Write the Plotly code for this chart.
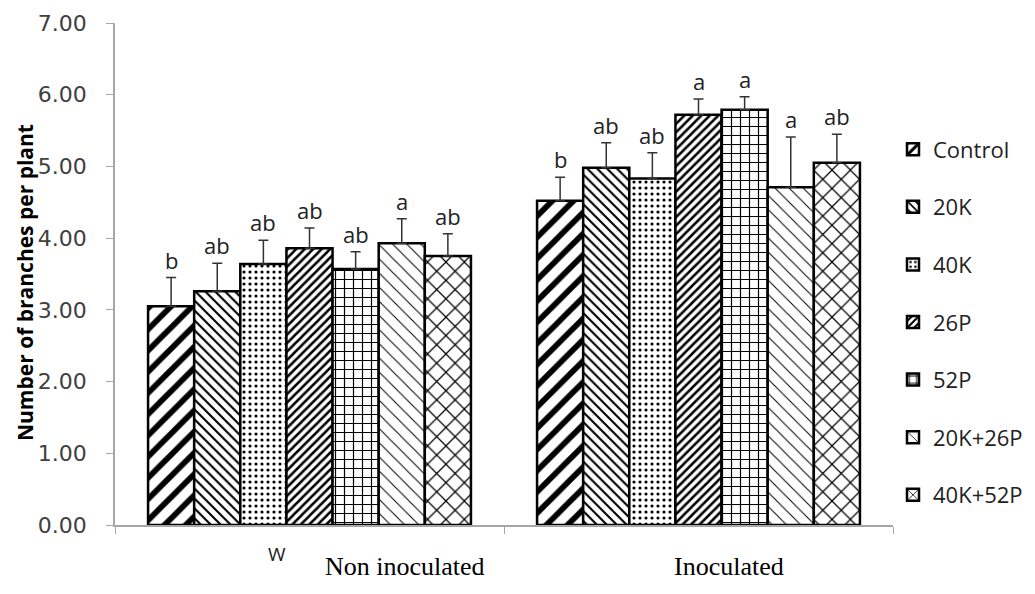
import plotly.graph_objects as go

categories = ["Non inoculated", "Inoculated"]
treatments = ["Control", "20K", "40K", "26P", "52P", "20K+26P", "40K+52P"]

# mean values per treatment: [Non inoculated, Inoculated]
means = {
    "Control": [3.05, 4.52],
    "20K": [3.26, 4.98],
    "40K": [3.64, 4.83],
    "26P": [3.86, 5.72],
    "52P": [3.57, 5.79],
    "20K+26P": [3.93, 4.71],
    "40K+52P": [3.75, 5.05],
}
errors = {
    "Control": [0.40, 0.33],
    "20K": [0.39, 0.35],
    "40K": [0.33, 0.36],
    "26P": [0.28, 0.22],
    "52P": [0.24, 0.18],
    "20K+26P": [0.34, 0.70],
    "40K+52P": [0.31, 0.40],
}
letters = {
    "Control": ["b", "b"],
    "20K": ["ab", "ab"],
    "40K": ["ab", "ab"],
    "26P": ["ab", "a"],
    "52P": ["ab", "a"],
    "20K+26P": ["a", "a"],
    "40K+52P": ["ab", "ab"],
}

patterns = {
    "Control": dict(shape="/", size=15, solidity=0.38),
    "20K": dict(shape="\\", size=7, solidity=0.3),
    "40K": dict(shape=".", size=6, solidity=0.22),
    "26P": dict(shape="/", size=6, solidity=0.42),
    "52P": dict(shape="+", size=9, solidity=0.25),
    "20K+26P": dict(shape="\\", size=10, solidity=0.1),
    "40K+52P": dict(shape="x", size=13, solidity=0.18),
}

BARGAP = 0.17
fig = go.Figure()
for t in treatments:
    p = patterns[t]
    fig.add_trace(go.Bar(
        name=t, x=categories, y=means[t], legendgroup=t,
        marker=dict(color="white", line=dict(color="black", width=2.5),
                    pattern=dict(shape=p["shape"], size=p["size"], solidity=p["solidity"],
                                 fgcolor="black", bgcolor="white", fillmode="replace")),
        error_y=dict(type="data", symmetric=False, array=errors[t],
                     arrayminus=[0, 0], color="#333333", thickness=1.5, width=5),
    ))

annotations = []
n = len(treatments)
bw = (1 - BARGAP) / n
for j, t in enumerate(treatments):
    for i, c in enumerate(categories):
        annotations.append(dict(
            x=i + (j - (n - 1) / 2) * bw, y=means[t][i] + errors[t][i],
            xref="x", yref="y", text=letters[t][i], showarrow=False,
            yanchor="bottom", yshift=1,
            font=dict(family="Open Sans", size=22, color="#222222")))

PW = 778
PH = 502
annotations += [
    dict(x=(405 - 115) / PW, y=-0.05, xref="paper", yref="paper", text="Non inoculated",
         showarrow=False, yanchor="top", xanchor="center",
         font=dict(family="Liberation Serif", size=26, color="black")),
    dict(x=(729 - 115) / PW, y=-0.05, xref="paper", yref="paper", text="Inoculated",
         showarrow=False, yanchor="top", xanchor="center",
         font=dict(family="Liberation Serif", size=26, color="black")),
    dict(x=(277 - 115) / PW, y=-0.028, xref="paper", yref="paper", text="W",
         showarrow=False, yanchor="top", xanchor="center",
         font=dict(family="Open Sans", size=19, color="#222222")),
    dict(x=(25 - 115) / PW, y=(525 - 283) / PH, xref="paper", yref="paper",
         text="<b>Number of branches per plant</b>", textangle=-90,
         showarrow=False, xanchor="center", yanchor="middle",
         font=dict(family="Open Sans", size=21, color="black")),
]

# page body has an 8px margin, so the figure is sized/offset to compensate
fig.update_layout(
    width=1027, height=586,
    margin=dict(l=107, r=142, t=15, b=69, autoexpand=False),
    paper_bgcolor="white", plot_bgcolor="white",
    barmode="group", bargap=BARGAP, bargroupgap=0,
    showlegend=True,
    legend=dict(x=1.0, y=0.79, xanchor="left", yanchor="top",
                font=dict(family="Open Sans", size=22, color="#222222"),
                tracegroupgap=26, bgcolor="rgba(0,0,0,0)"),
    annotations=annotations,
    xaxis=dict(showticklabels=False, ticks="outside", tickson="boundaries", ticklen=7,
               tickcolor="#a6a6a6", showline=True, linecolor="#a6a6a6", linewidth=1.5,
               showgrid=False, zeroline=False, automargin=False),
    yaxis=dict(range=[0, 7], dtick=1, tickformat=".2f", ticks="outside", ticklen=7,
               tickcolor="#a6a6a6", showline=True, linecolor="#a6a6a6", linewidth=1.5,
               showgrid=False, zeroline=False, automargin=False, ticklabelstandoff=15,
               tickfont=dict(family="DejaVu Sans", size=22, color="#404040")),
)

fig.write_html("out.html")
